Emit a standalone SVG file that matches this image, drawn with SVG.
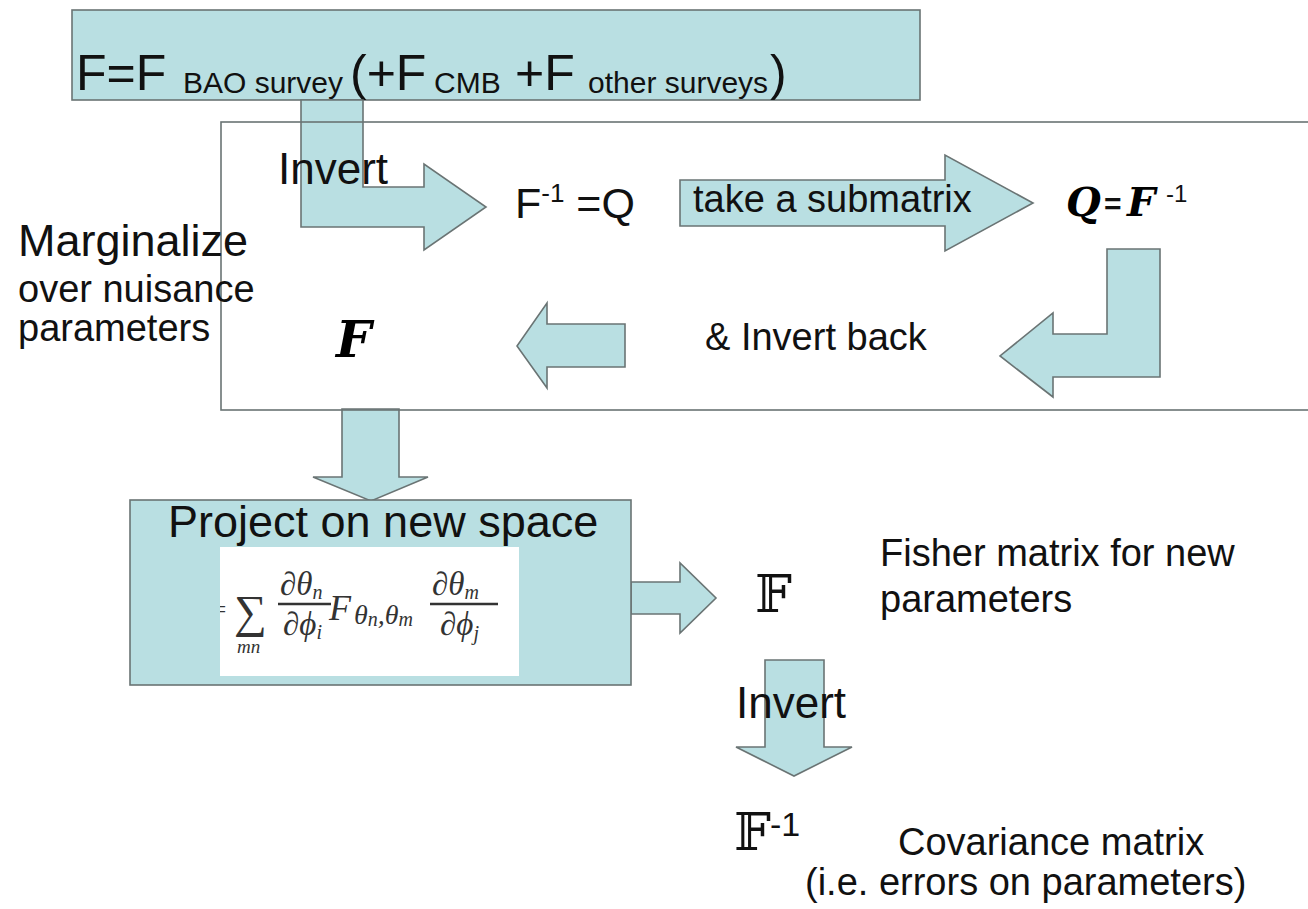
<svg xmlns="http://www.w3.org/2000/svg" width="1308" height="909" viewBox="0 0 1308 909">
<defs>
<style>
.blk{fill:#b9dfe2;stroke:#6a7474;stroke-width:1.6;stroke-linejoin:miter}
.box{fill:#b9dfe2;stroke:#6a7474;stroke-width:1.6}
.sans{font-family:"Liberation Sans",Arial,sans-serif;fill:#111}
.bi{font-family:"DejaVu Serif","Liberation Serif",serif;font-weight:bold;font-style:italic;fill:#000}
.ds{font-family:"DejaVu Serif","DejaVu Sans","Noto Sans",serif;fill:#111}
.mt{font-family:"Liberation Serif","DejaVu Serif",serif;font-style:italic;fill:#333}
</style>
<clipPath id="fclip"><rect x="220" y="547" width="299" height="129"/></clipPath>
</defs>
<rect width="1308" height="909" fill="#fff"/>

<g id="top-box">
<rect class="box" x="72" y="10" width="848" height="90"/>
<text class="sans" font-size="50" x="76" y="90">F=F</text>
<text class="sans" font-size="30" x="183" y="93">BAO survey</text>
<text class="sans" font-size="50" x="350" y="90">(+F</text>
<text class="sans" font-size="30" x="434" y="93">CMB</text>
<text class="sans" font-size="50" x="515" y="90">+F</text>
<text class="sans" font-size="30" x="588" y="93">other surveys</text>
<text class="sans" font-size="50" x="770" y="90">)</text>
</g>

<g id="connectors">
<polygon class="blk" points="301,100 363,100 363,187 424,187 424,164 486,207 424,250 424,227 301,227"/>
<polygon class="blk" points="680,180 945,180 945,155 1033,203 945,251 945,226 680,226"/>
<polygon class="blk" points="1107,249 1160,249 1160,377 1053,377 1053,397 1000,356 1053,313 1053,334 1107,334"/>
<polygon class="blk" points="625,324 547,324 547,303 517,346 547,388 547,367 625,367"/>
<polygon class="blk" points="342,409 399,409 399,477 428,477 371,501 313,477 342,477"/>
<polygon class="blk" points="631,582 680,582 680,563 716,598 680,633 680,614 631,614"/>
<polygon class="blk" points="765,660 824,660 824,747 852,747 794,776 736,747 765,747"/>
<text class="sans" font-size="44" x="278" y="184">Invert</text>
<text class="sans" font-size="38" x="693" y="212">take a submatrix</text>
<text class="sans" font-size="38" x="705" y="350">&amp; Invert back</text>
<text class="sans" font-size="44" x="736" y="718">Invert</text>
</g>

<g id="marginalize-box">
<rect x="221" y="122" width="1100" height="288" fill="none" stroke="#6a7474" stroke-width="1.6"/>
<text class="sans" font-size="45" x="18" y="256">Marginalize</text>
<text class="sans" font-size="38" x="18" y="302">over nuisance</text>
<text class="sans" font-size="38" x="18" y="341">parameters</text>
</g>

<g id="node-finv-q">
<text class="sans" font-size="43" x="515" y="218">F<tspan font-size="26" dy="-16">-1</tspan><tspan dy="16"> =Q</tspan></text>
</g>

<g id="node-q-sub">
<text class="bi" font-size="40" x="1066" y="216">Q</text>
<text class="sans" font-weight="bold" font-size="30" x="1104" y="214">=</text>
<text class="bi" font-size="40" x="1127" y="216">F</text>
<text class="sans" font-size="24" x="1166" y="202">-1</text>
</g>

<g id="node-f-marg">
<text class="bi" font-size="50" x="336" y="357">F</text>
</g>

<g id="project-box">
<rect class="box" x="130" y="500" width="501" height="185"/>
<text class="sans" font-size="45" x="168" y="537">Project on new space</text>
<rect x="220" y="547" width="299" height="129" fill="#fff"/>
<g clip-path="url(#fclip)">
<text class="mt" font-style="normal" font-size="26" x="210" y="618">=</text>
<text class="mt" font-style="normal" font-size="46" x="234" y="627">∑</text>
<text class="mt" font-size="19" x="237" y="653">mn</text>
<text class="mt" font-size="33" x="280" y="595">∂θ<tspan font-size="20" dy="4">n</tspan></text>
<line x1="278" y1="604" x2="331" y2="604" stroke="#333" stroke-width="2.4"/>
<text class="mt" font-size="33" x="283" y="635">∂ϕ<tspan font-size="20" dy="4">i</tspan></text>
<text class="mt" font-size="36" x="329" y="620">F</text>
<text class="mt" font-size="28" x="354" y="624">θ<tspan font-size="20" dy="2">n</tspan><tspan dy="-2">,θ</tspan><tspan font-size="20" dy="2">m</tspan></text>
<text class="mt" font-size="33" x="432" y="595">∂θ<tspan font-size="20" dy="4">m</tspan></text>
<line x1="430" y1="604" x2="498" y2="604" stroke="#333" stroke-width="2.4"/>
<text class="mt" font-size="33" x="440" y="635">∂ϕ<tspan font-size="20" dy="5">j</tspan></text>
</g>
</g>

<g id="node-fisher">
<text class="ds" font-size="52" x="755" y="612">𝔽</text>
<text class="sans" font-size="38" x="880" y="566">Fisher matrix for new</text>
<text class="sans" font-size="38" x="880" y="612">parameters</text>
</g>

<g id="node-covariance">
<text class="ds" font-size="52" x="734" y="850">𝔽</text>
<text class="sans" font-size="34" x="770" y="836">-1</text>
<text class="sans" font-size="38" x="898" y="855">Covariance matrix</text>
<text class="sans" font-size="38" x="805" y="895">(i.e. errors on parameters)</text>
</g>
</svg>
